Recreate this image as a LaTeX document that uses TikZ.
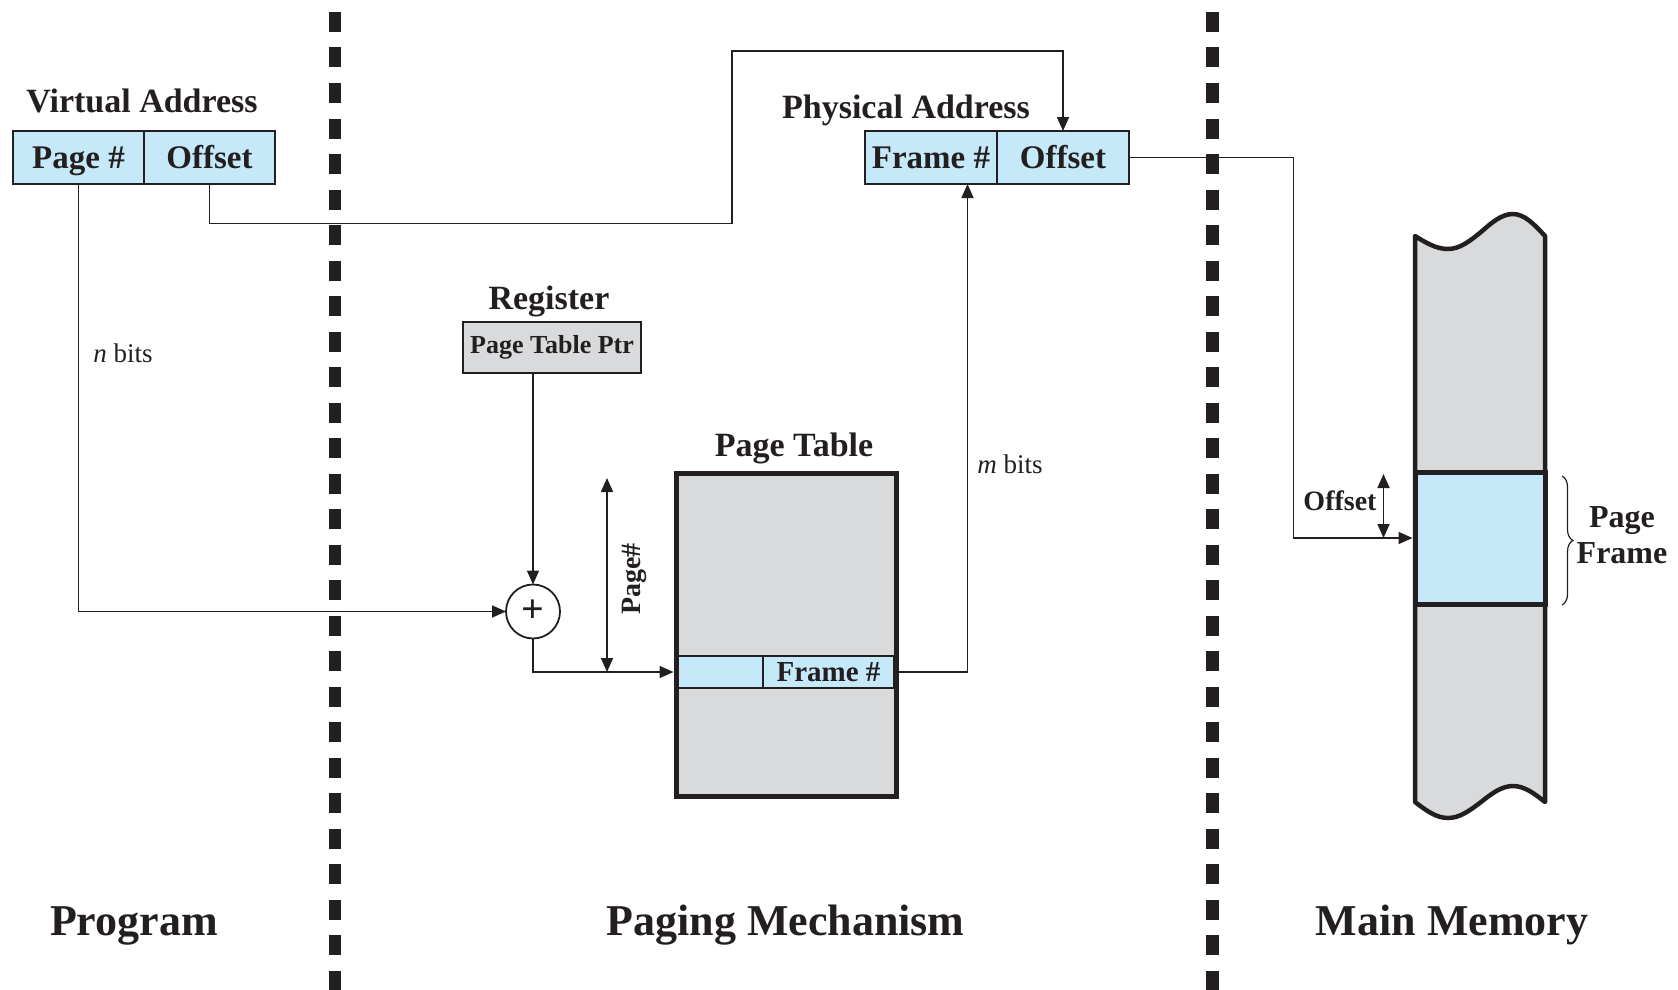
\documentclass[tikz,border=0pt]{standalone}
\usepackage{fontspec}
\setmainfont{Liberation Serif}
\usetikzlibrary{arrows.meta,decorations.pathreplacing,calc}
\definecolor{ink}{RGB}{35,31,32}
\definecolor{cellblue}{RGB}{198,233,250}
\definecolor{cellgray}{RGB}{217,218,220}
\newcommand\setfs[1]{\fontsize{#1}{#1}\selectfont}
\begin{document}
\begin{tikzpicture}[x=1pt,y=-1pt,
  every node/.style={inner sep=0pt, outer sep=0pt, text=ink},
  conn/.style={draw=ink, line width=1.7pt},
  tip/.style={-{Triangle[length=14pt,width=12pt]}},
  bothtips/.style={{Triangle[length=14pt,width=12pt]}-{Triangle[length=14pt,width=12pt]}},
  divider/.style={draw=ink, line width=12.5pt, dash pattern=on 20pt off 15.5pt},
  addrcell/.style={draw=ink, line width=1.8pt, fill=cellblue, minimum height=53pt,
                   minimum width=131pt, font=\setfs{33}\bfseries,
                   text height=22pt, text depth=0pt},
  title/.style={anchor=base, font=\setfs{34}\bfseries},
  region/.style={anchor=base, font=\setfs{44}\bfseries},
  small/.style={anchor=base, font=\setfs{27}},
]
\useasboundingbox (0,0) rectangle (1678,990);

% section dividers
\draw[divider] (335,12) -- (335,990);
\draw[divider] (1212.5,12) -- (1212.5,990);

% virtual address
\node[title] (vatitle) at (142,112) {Virtual Address};
\node[addrcell] (vapage) at (78.5,157.5) {Page \#};
\node[addrcell] (vaoff) at (209.5,157.5) {Offset};

% physical address
\node[title] (patitle) at (906,118) {Physical Address};
\node[addrcell, minimum width=132pt] (pafr) at (931,157.5) {Frame \#};
\node[addrcell, minimum width=132pt] (paoff) at (1063,157.5) {Offset};

% register
\node[title] (regtitle) at (549,309) {Register};
\node[draw=ink, line width=1.8pt, fill=cellgray, minimum width=178pt, minimum height=51pt,
      font=\setfs{26}\bfseries] (ptr) at (552,347.5) {Page Table Ptr};

% adder
\node[draw=ink, line width=1.8pt, circle, minimum size=54pt, font=\setfs{40}\bfseries]
  (plus) at (533,611.5) {+};

% page table
\node[title] (pttitle) at (794,456) {Page Table};
\node[draw=ink, line width=5pt, fill=cellgray, minimum width=220pt, minimum height=323pt]
  (pt) at (786,635) {};
\node[draw=ink, line width=1.5pt, fill=cellblue, minimum width=84.5pt, minimum height=32pt]
  (entryL) at (720.75,672) {};
\node[draw=ink, line width=1.5pt, fill=cellblue, minimum width=131pt, minimum height=32pt,
      font=\setfs{29}\bfseries, text height=19pt, text depth=0pt] (entryR) at (828.5,672) {Frame \#};

% main memory
\draw[draw=ink, line width=4.5pt, fill=cellgray, line join=round]
  (1415,236) sin (1448,249) cos (1481,232) sin (1513,214) cos (1545,236)
  -- (1545,802) sin (1513,786) cos (1481,802) sin (1448,818) cos (1415,802) -- cycle;
\node[draw=ink, line width=5pt, fill=cellblue, minimum width=130pt, minimum height=132pt]
  (frame) at (1480,538) {};
\draw[draw=ink, line width=1.2pt, decorate, decoration={brace, amplitude=11pt}]
  (1562,476) -- (1562,605);
\node[align=center, font=\setfs{32}\bfseries] (pflabel) at (1622,535.5) {Page\\[4pt]Frame};

% labels
\node[small] (nbits) at (123,362) {\textit{n} bits};
\node[small] (mbits) at (1010,473) {\textit{m} bits};
\node[anchor=base, font=\setfs{28}\bfseries] (offlabel) at (1340,510) {Offset};
\node[rotate=90, font=\setfs{28}\bfseries] (pglabel) at (634,579) {Page\#};

\node[region] (lprog) at (134,935) {Program};
\node[region] (lpaging) at (785.5,935) {Paging Mechanism};
\node[region] (lmem) at (1452,935) {Main Memory};

% connectors
\coordinate (k1) at (732,223.5);
\coordinate (topy) at (0,51);
\coordinate (mx) at (967.5,0);
\coordinate (ox) at (1293.5,0);
\coordinate (pgtop) at (607,478);
\coordinate (offtop) at (1383.5,474);

\draw[conn, tip] (vaoff.south) |- (k1) |- (paoff.north |- topy) -- (paoff.north);
\draw[conn, tip] (vapage.south) |- (plus.west);
\draw[conn, tip] (ptr.south -| plus.north) -- (plus.north);
\draw[conn, tip, shorten >=2.5pt] (plus.south) |- (pt.west |- entryL.west);
\draw[conn, bothtips] (pgtop) -- (pgtop |- entryL.west);
\draw[conn, tip] (entryR.east) -| (mx |- pafr.south);
\draw[conn, tip, shorten >=2.5pt] (paoff.east) -| (ox |- frame.west) -- (frame.west);
\draw[conn, bothtips] (offtop) -- (offtop |- frame.west);
\end{tikzpicture}
\end{document}
